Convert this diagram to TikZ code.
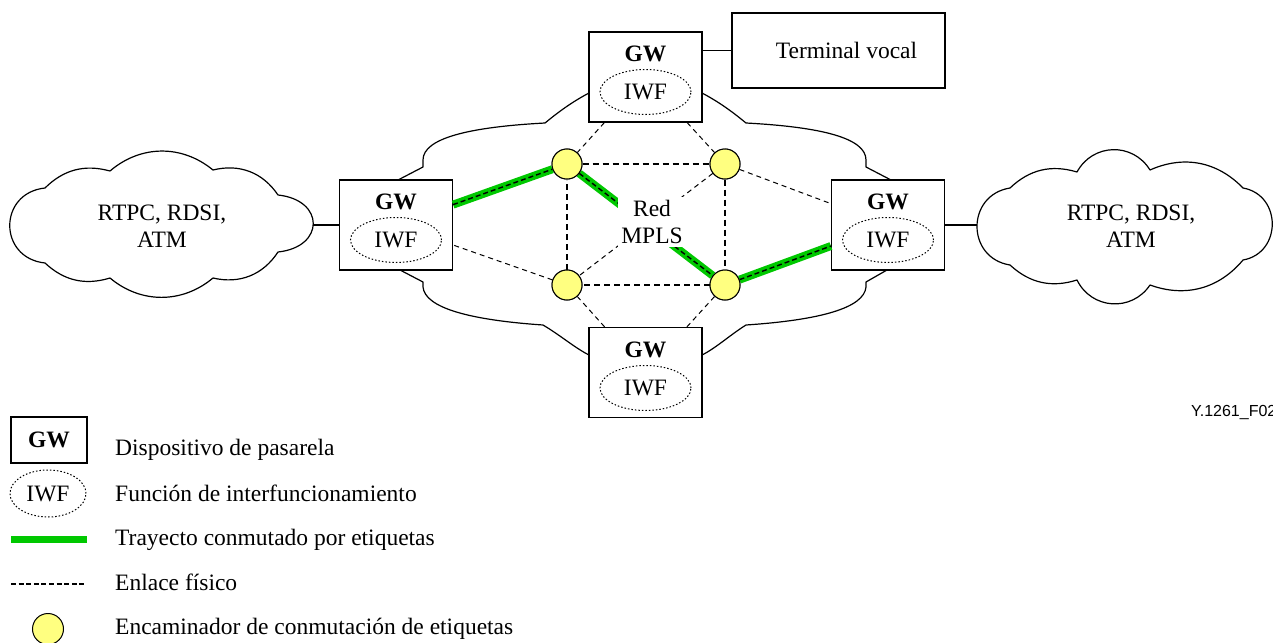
\documentclass[tikz,border=0pt]{standalone}
\usepackage{fontspec}
\setmainfont{Liberation Serif}
\newfontfamily\figsans{Liberation Sans}
\usetikzlibrary{shapes.geometric}
\definecolor{lspcol}{RGB}{0,200,0}
\definecolor{lsrcol}{RGB}{255,255,128}
\begin{document}
\begin{tikzpicture}[x=1pt,y=-1pt,
  txt/.style={font=\fontsize{23.5}{27}\selectfont, inner sep=0pt},
  gwbox/.style={draw, line width=1.2pt, fill=white, minimum width=113pt, minimum height=90pt, inner sep=0pt},
  gwlab/.style={font=\fontsize{23.5}{27}\selectfont\bfseries, inner sep=0pt},
  iwf/.style={ellipse, draw, line width=1pt, dash pattern=on 1.5pt off 2pt, minimum width=91pt, minimum height=45pt, inner sep=0pt, font=\fontsize{23.5}{27}\selectfont},
  lsr/.style={circle, draw, line width=1pt, fill=lsrcol, minimum size=30pt, inner sep=0pt},
  cloudline/.style={line width=1.2pt, line join=round},
  phys/.style={line width=1pt, dash pattern=on 5pt off 4pt},
  physsq/.style={line width=1.6pt, dash pattern=on 6pt off 4pt},
  lspline/.style={line width=8pt, draw=lspcol},
  lspdash/.style={line width=1.4pt, dash pattern=on 5pt off 3pt},
  solidlink/.style={line width=1.8pt}
]
\useasboundingbox (0,0) rectangle (1273,642);

% ---- outer networks (clouds) ----
\draw[cloudline] (45,188) to[bend left=30] (110,171) to[bend left=40] (213,170)
  to[bend left=35] (278,195) .. controls (325,200) and (325,247) .. (278,252)
  to[bend left=35] (213,278) to[bend left=40] (110,278) to[bend left=30] (45,263)
  .. controls (-2,258) and (-2,193) .. (45,188) -- cycle;
\node[txt, align=center] (lctext) at (162,226) {RTPC, RDSI,\\ATM};
\coordinate (lct) at (313,225);

\draw[cloudline] (1010,188) to[bend left=30] (1077,172) to[bend left=60, looseness=1.15] (1150,170)
  to[bend left=35] (1243,188) .. controls (1282,195) and (1282,253) .. (1243,260)
  to[bend left=35] (1150,285) to[bend left=60, looseness=1.15] (1077,280) to[bend left=30] (1010,265)
  .. controls (966,258) and (966,195) .. (1010,188) -- cycle;
\node[txt, align=center] (rctext) at (1131,226) {RTPC, RDSI,\\ATM};
\coordinate (rct) at (977,225);

% ---- MPLS cloud outline ----
\draw[cloudline] (589,93) .. controls (570,103) and (556,114) .. (545,123)
  .. controls (470,127) and (423,138) .. (423,160) -- (423,167) -- (398,180);
\draw[cloudline] (702,93) .. controls (721,103) and (735,114) .. (746,123)
  .. controls (821,127) and (866,138) .. (866,160) -- (866,167) -- (891,180);
\draw[cloudline] (400,270) -- (423,282) -- (423,287)
  .. controls (425,308) and (470,320) .. (543,325)
  .. controls (560,335) and (575,348) .. (589,355);
\draw[cloudline] (887,270) -- (866,282) -- (866,287)
  .. controls (864,308) and (820,320) .. (746,325)
  .. controls (730,335) and (716,348) .. (702,355);

% ---- gateways ----
\node[gwbox] (tgw) at (645.5,77) {};
\node[gwlab, anchor=base] (tgwl) at (645.5,62) {GW};
\node[iwf] (tiwf) at (645.5,92) {IWF};

\node[gwbox] (lgw) at (396,225) {};
\node[gwlab, anchor=base] (lgwl) at (396,209) {GW};
\node[iwf] (liwf) at (396,240) {IWF};

\node[gwbox] (rgw) at (888,225) {};
\node[gwlab, anchor=base] (rgwl) at (888,209) {GW};
\node[iwf] (riwf) at (888,240) {IWF};

\node[gwbox] (bgw) at (645.5,372.5) {};
\node[gwlab, anchor=base] (bgwl) at (645.5,357) {GW};
\node[iwf] (biwf) at (645.5,388) {IWF};

\node[draw, line width=1.2pt, minimum width=213pt, minimum height=75pt, txt] (term) at (838.5,50.5) {\hspace*{16pt}Terminal vocal};
\draw[solidlink] (term.west) -- (term.west -| tgw.east);
\draw[solidlink] (lct) -- (lgw.west);
\draw[solidlink] (rgw.east) -- (rct);

% ---- label switching routers ----
\coordinate (pa) at (567,164);
\coordinate (pb) at (725,164);
\coordinate (pc) at (567,285);
\coordinate (pd) at (725,285);
\node[lsr] (ra) at (pa) {};
\node[lsr] (rb) at (pb) {};
\node[lsr] (rc) at (pc) {};
\node[lsr] (rd) at (pd) {};

% label switched path
\draw[lspline] (lgw) -- (ra);
\draw[lspline] (ra) -- (rd);
\draw[lspline] (rd) -- (rgw);
\draw[lspdash] (lgw) -- (ra);
\draw[lspdash] (ra) -- (rd);
\draw[lspdash] (rd) -- (rgw);

% physical links
\draw[physsq] (ra) -- (rb);
\draw[physsq] (rb) -- (rd);
\draw[physsq] (rd) -- (rc);
\draw[physsq] (rc) -- (ra);
\draw[phys] (tgw) -- (ra);
\draw[phys] (tgw) -- (rb);
\draw[phys] (bgw) -- (rc);
\draw[phys] (bgw) -- (rd);
\draw[phys] (rb) -- (rgw);
\draw[phys] (rc) -- (lgw);
\draw[phys] (rb) -- (rc);

% redraw routers on top
\node[lsr] at (pa) {};
\node[lsr] at (pb) {};
\node[lsr] at (pc) {};
\node[lsr] at (pd) {};

\node[txt, align=center, fill=white, inner sep=3pt] (mpls) at (652,222) {Red\\MPLS};

% ---- figure id ----
\node[font=\figsans\fontsize{16}{19}\selectfont, anchor=base west, inner sep=0pt] (fid) at (1191,416) {Y.1261\_F02};

% ---- legend ----
\node[draw, line width=1.2pt, minimum width=76pt, minimum height=46pt, gwlab] (lg1) at (49,440) {GW};
\node[iwf, minimum width=76pt, minimum height=47pt] (lg2) at (48,493.5) {IWF};
\coordinate (lg3a) at (11,539);
\coordinate (lg3b) at (87,539);
\draw[line width=7pt, lspcol] (lg3a) -- (lg3b);
\coordinate (lg4a) at (11,584);
\coordinate (lg4b) at (86,584);
\draw[line width=1.2pt, dash pattern=on 5pt off 2.6pt] (lg4a) -- (lg4b);
\node[lsr, minimum size=31pt] (lg5) at (48,629) {};

\node[txt, anchor=base west] (lt1) at (115,455) {Dispositivo de pasarela};
\node[txt, anchor=base west] (lt2) at (115,501) {Función de interfuncionamiento};
\node[txt, anchor=base west] (lt3) at (115,545) {Trayecto conmutado por etiquetas};
\node[txt, anchor=base west] (lt4) at (115,590) {Enlace físico};
\node[txt, anchor=base west] (lt5) at (115,634) {Encaminador de conmutación de etiquetas};
\end{tikzpicture}
\end{document}
